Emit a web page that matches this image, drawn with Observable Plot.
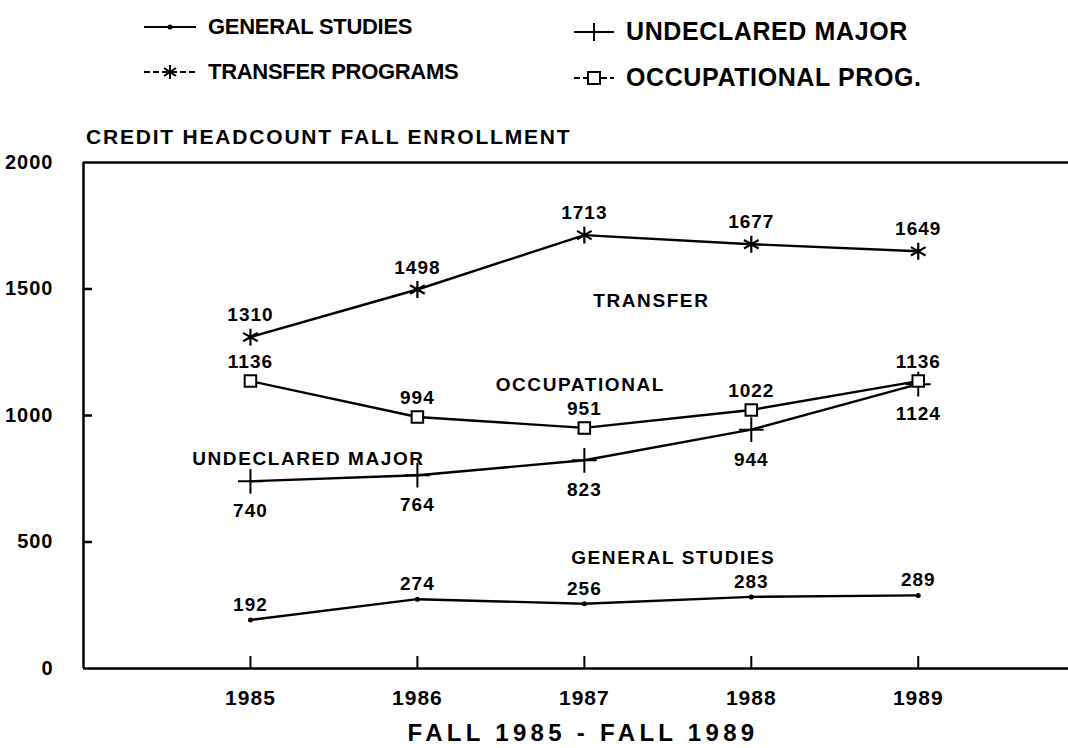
<!DOCTYPE html>
<html>
<head>
<meta charset="utf-8">
<script src="https://cdn.jsdelivr.net/npm/d3@7"></script>
<script src="https://cdn.jsdelivr.net/npm/@observablehq/plot@0.6"></script>
<style>
  html, body { margin: 0; padding: 0; background: #fff; }
  #wrap { position: relative; width: 1068px; height: 748px; overflow: hidden; font-family: "Liberation Sans", Arial, sans-serif; font-weight: 700; color: #000; }
  .leg { position: absolute; display: flex; align-items: center; font-size: 22px; letter-spacing: -0.3px; white-space: nowrap; }
  .leg.big { font-size: 25px; letter-spacing: 0.6px; }
  .leg svg { margin-right: 10px; }
  #title { position: absolute; left: 86px; top: 125px; font-size: 21px; letter-spacing: 1.8px; white-space: nowrap; }
  #chart { position: absolute; left: 0; top: 150px; }
  #chart svg text { letter-spacing: 1px; }
</style>
</head>
<body>
<div id="wrap">
  <div class="leg" style="left:142px; top:14px;">
    <svg width="56" height="16"><line x1="2" y1="8" x2="54" y2="8" stroke="#000" stroke-width="2"/><circle cx="28" cy="8" r="2.5" fill="#000"/></svg>
    <span id="leg0"></span>
  </div>
  <div class="leg" style="left:142px; top:59px;">
    <svg width="56" height="18"><line x1="2" y1="9" x2="54" y2="9" stroke="#000" stroke-width="2" stroke-dasharray="6 3"/><g stroke="#000" stroke-width="2"><line x1="28" y1="2" x2="28" y2="16"/><line x1="22" y1="5" x2="34" y2="13"/><line x1="22" y1="13" x2="34" y2="5"/></g></svg>
    <span id="leg1"></span>
  </div>
  <div class="leg big" style="left:572px; top:17px;">
    <svg width="44" height="20"><line x1="2" y1="10" x2="42" y2="10" stroke="#000" stroke-width="2"/><line x1="22" y1="1" x2="22" y2="19" stroke="#000" stroke-width="2"/></svg>
    <span id="leg2"></span>
  </div>
  <div class="leg big" style="left:572px; top:63px;">
    <svg width="44" height="20"><line x1="2" y1="10" x2="42" y2="10" stroke="#000" stroke-width="2" stroke-dasharray="6 3"/><rect x="16" y="4" width="12" height="12" fill="#fff" stroke="#000" stroke-width="2"/></svg>
    <span id="leg3"></span>
  </div>
  <div id="title"></div>
  <div id="chart"></div>
</div>
<script>
// ---- data ----
const years = [1985, 1986, 1987, 1988, 1989];
const generalStudies   = [192, 274, 256, 283, 289];
const transferPrograms = [1310, 1498, 1713, 1677, 1649];
const undeclaredMajor  = [740, 764, 823, 944, 1124];
const occupationalProg = [1136, 994, 951, 1022, 1136];
const legendLabels = ["GENERAL STUDIES", "TRANSFER PROGRAMS", "UNDECLARED MAJOR", "OCCUPATIONAL PROG."];
const seriesLabels = ["GENERAL STUDIES", "TRANSFER", "UNDECLARED MAJOR", "OCCUPATIONAL"];
const yTicks = [0, 500, 1000, 1500, 2000];
const chartTitle = "CREDIT HEADCOUNT FALL ENROLLMENT";
const xTitle = "FALL 1985 - FALL 1989";

legendLabels.forEach((t, i) => document.getElementById("leg" + i).textContent = t);
document.getElementById("title").textContent = chartTitle;

const rows = (values) => years.map((year, i) => ({year, value: values[i]}));
const gen = rows(generalStudies);
const tra = rows(transferPrograms);
const und = rows(undeclaredMajor);
const occ = rows(occupationalProg);

const W = 1068, H = 598, mT = 12, mB = 80, mL = 83, mR = 0;
const frameW = W - mL - mR, frameH = H - mT - mB;

const font = {fontSize: 19, fontWeight: 700};
const nameFont = {fontSize: 19, fontWeight: 700};
const lineStyle = {x: "year", y: "value", stroke: "#000", strokeWidth: 2.4};

const chart = Plot.plot({
  width: W,
  height: H,
  marginTop: mT,
  marginBottom: mB,
  marginLeft: mL,
  marginRight: mR,
  style: {fontFamily: "'Liberation Sans', Arial, sans-serif", fontWeight: 700, background: "#fff", color: "#000"},
  x: {domain: [1984, 1989.9]},
  y: {domain: [0, 2000]},
  marks: [
    Plot.ruleX([1984], {strokeWidth: 2.5}),
    Plot.ruleY([0, 2000], {strokeWidth: 2.5}),
    Plot.axisY({ticks: yTicks, tickSize: 0, tickPadding: 30, tickFormat: d => String(d), fontSize: 20, fontWeight: 700, label: null}),
    Plot.axisX({ticks: years, tickSize: 0, tickPadding: 22, tickFormat: d => String(d), fontSize: 21, fontWeight: 700, label: null}),
    // inward ticks
    Plot.tickY(yTicks.slice(1, -1), {y: d => d, insetRight: frameW - 9, stroke: "#000", strokeWidth: 2.5}),
    Plot.tickX(years, {x: d => d, insetTop: frameH - 12, stroke: "#000", strokeWidth: 2}),
    Plot.text([xTitle], {frameAnchor: "bottom", dy: 72, dx: 7, fontSize: 24, fontWeight: 700}),

    Plot.line(gen, lineStyle),
    Plot.line(tra, lineStyle),
    Plot.line(und, lineStyle),
    Plot.line(occ, lineStyle),

    Plot.dot(gen, {x: "year", y: "value", r: 2.5, fill: "#000"}),
    Plot.dot(tra, {x: "year", y: "value", symbol: "asterisk", r: 8, stroke: "#000", strokeWidth: 2.2}),
    Plot.dot(und, {x: "year", y: "value", symbol: "plus", r: 8, stroke: "#000", strokeWidth: 2}),
    Plot.dot(occ, {x: "year", y: "value", symbol: "square", r: 6.5, fill: "#fff", stroke: "#000", strokeWidth: 2}),

    Plot.text(gen, {x: "year", y: "value", text: d => String(d.value), dy: -15, ...font}),
    Plot.text(tra, {x: "year", y: "value", text: d => String(d.value), dy: -22, ...font}),
    Plot.text(und, {x: "year", y: "value", text: d => String(d.value), dy: 30, ...font}),
    Plot.text(occ, {x: "year", y: "value", text: d => String(d.value), dy: -19, ...font}),

    // series name annotations, anchored to a data point of each series
    Plot.text([tra[2]], {x: "year", y: "value", text: () => seriesLabels[1], dx: 67, dy: 66, ...nameFont}),
    Plot.text([occ[2]], {x: "year", y: "value", text: () => seriesLabels[3], dx: -4, dy: -43, ...nameFont}),
    Plot.text([und[0]], {x: "year", y: "value", text: () => seriesLabels[2], dx: 58, dy: -22, ...nameFont}),
    Plot.text([gen[3]], {x: "year", y: "value", text: () => seriesLabels[0], dx: -78, dy: -39, ...nameFont})
  ]
});
d3.select(chart).selectAll("text").each(function() {
  const t = this.textContent;
  if (seriesLabels.includes(t)) this.style.letterSpacing = "1.6px";
  if (t === xTitle) this.style.letterSpacing = "4.3px";
});
document.getElementById("chart").appendChild(chart);
</script>
</body>
</html>
